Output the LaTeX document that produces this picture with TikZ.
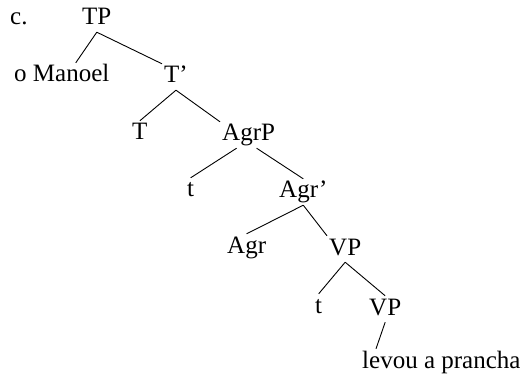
\documentclass[tikz,border=0pt]{standalone}
\usepackage{fontspec}
\setmainfont{Liberation Serif}
\usetikzlibrary{calc}
\begin{document}
\begin{tikzpicture}[x=1pt,y=1pt,yscale=-1,xscale=1,
  lbl/.style={anchor=base west,inner sep=2pt,text height=17pt,text depth=5pt,font=\fontsize{25}{30}\selectfont},
  br/.style={line width=0.9pt}]
\useasboundingbox (0,0) rectangle (522,382);
%labels
\draw (8,25) node [lbl] (ex) {c.};
\draw (80,25) node [lbl] (tp) {TP};
\draw (12,82) node [lbl] (om) {o Manoel};
\draw (162,83) node [lbl] (tb) {T'};
\draw (130,140) node [lbl] (t0) {T};
\draw (220,141) node [lbl] (agrp) {AgrP};
\draw (185,197) node [lbl] (ta) {t};
\draw (277,198) node [lbl] (agrb) {Agr'};
\draw (225,253) node [lbl] (agr) {Agr};
\draw (327,255) node [lbl] (vpa) {VP};
\draw (313,313) node [lbl] (tb2) {t};
\draw (367,315) node [lbl] (vpb) {VP};
\draw (360,368) node [lbl] (lev) {levou a prancha};
%branches
\draw [br] (tp.south) -- ($(om.north)+(14,0)$) ;
\draw [br] (tp.south) -- (tb.north west) ;
\draw [br] (tb.south) -- (t0.north) ;
\draw [br] (tb.south) -- (agrp.north west) ;
\draw [br] ($(agrp.south)+(-12,0)$) -- (ta.north) ;
\draw [br] ($(agrp.south)+(8,0)$) -- (agrb.north) ;
\draw [br] (agrb.south) -- (agr.north) ;
\draw [br] (agrb.south) -- (vpa.north west) ;
\draw [br] (vpa.south) -- (tb2.north) ;
\draw [br] (vpa.south) -- (vpb.north) ;
\draw [br] (vpb.south) -- ($(lev.north west)+(16,0)$) ;
\end{tikzpicture}
\end{document}
